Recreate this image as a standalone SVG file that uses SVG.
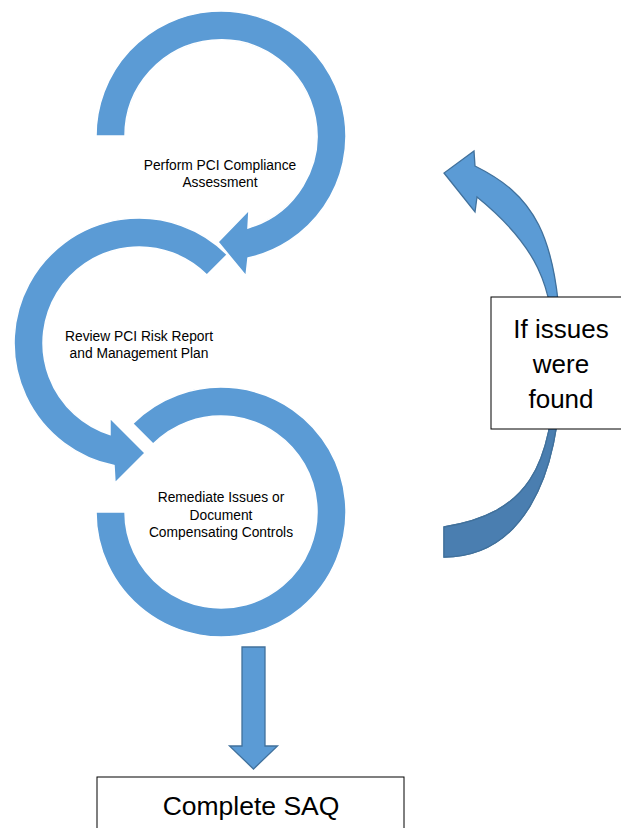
<svg xmlns="http://www.w3.org/2000/svg" width="621" height="828" viewBox="0 0 621 828">
<style>
.ring{fill:#5B9BD5;stroke:#FFFFFF;stroke-width:1.5;stroke-linejoin:miter}
.arr{fill:#5B9BD5;stroke:#41719C;stroke-width:1.3;stroke-linejoin:miter}
.arrdark{fill:#4A7EB0;stroke:#41719C;stroke-width:1.3;stroke-linejoin:miter}
.box{fill:#FFFFFF;stroke:#000000;stroke-width:1}
.t{font-family:"Liberation Sans",Arial,sans-serif;fill:#000000;text-anchor:middle}
.small{font-size:13.8px}
</style>
<defs>
<clipPath id="lowerClip"><rect x="400" y="362" width="221" height="220"/></clipPath>
</defs>
<rect width="621" height="828" fill="#FFFFFF"/>

<g id="node-perform">
<path class="ring" d="M 96,136 A 125 125 0 1 1 248,258 L 246,276 L 218,242 L 249,210 L 248,228 A 96 96 0 1 0 125,136 Z"/>
<text class="t small" x="220" y="170">Perform PCI Compliance</text>
<text class="t small" x="220" y="187">Assessment</text>
</g>

<g id="node-review">
<path class="ring" d="M 227.4,254.6 A 125 125 0 1 0 114,465.5 L 115,483 L 145,453 L 110,418 L 110,434.5 A 96 96 0 1 1 206.9,275.1 Z"/>
<text class="t small" x="139" y="341">Review PCI Risk Report</text>
<text class="t small" x="139" y="358">and Management Plan</text>
</g>

<g id="node-remediate">
<path class="ring" d="M 132.6,423.6 A 125 125 0 1 1 96,512 L 125,512 A 96 96 0 1 0 153.1,444.1 Z"/>
<text class="t small" x="221" y="502">Remediate Issues or</text>
<text class="t small" x="221" y="519.5">Document</text>
<text class="t small" x="221" y="537">Compensating Controls</text>
</g>

<g id="connectors">
<path id="loop-back-arrow" class="arr" d="M 444,527 C 525,514 555,470 555,360 C 555,285 535,244 477,197 L 475,212 L 444,173 L 474,151 L 475,166 C 530,193.5 561,230 561,362 C 561,485 518,557 444,557 Z"/>
<path class="arrdark" clip-path="url(#lowerClip)" d="M 444,527 C 525,514 555,470 555,360 C 555,285 535,244 477,197 L 475,212 L 444,173 L 474,151 L 475,166 C 530,193.5 561,230 561,362 C 561,485 518,557 444,557 Z"/>
<path id="down-arrow" class="arr" d="M 242,647 L 265,647 L 265,746 L 277.5,746 L 253.5,769 L 229.5,746 L 242,746 Z"/>
</g>

<g id="node-if-issues">
<rect class="box" x="491" y="297" width="140" height="132"/>
<text class="t" x="561" y="338" font-size="26">If issues</text>
<text class="t" x="561" y="373" font-size="26">were</text>
<text class="t" x="561" y="408" font-size="26">found</text>
</g>

<g id="node-complete-saq">
<rect class="box" x="97" y="777" width="307" height="60"/>
<text class="t" x="251" y="815" font-size="26.5">Complete SAQ</text>
</g>
</svg>
